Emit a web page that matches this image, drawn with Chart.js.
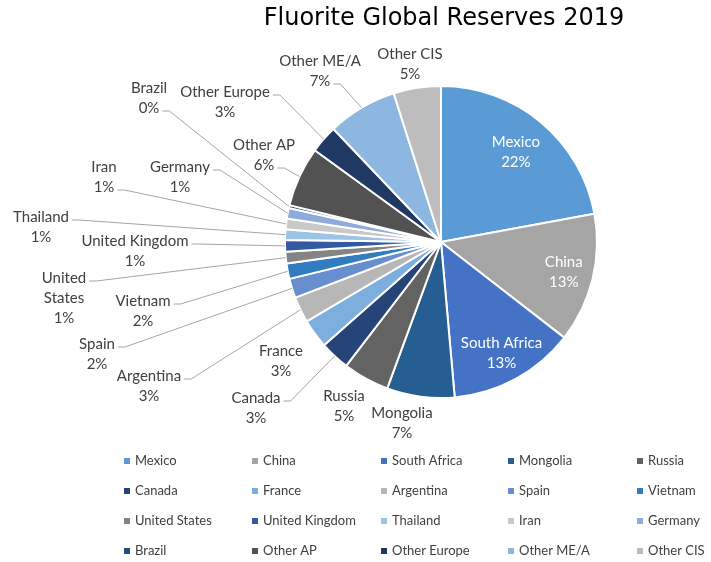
<!DOCTYPE html>
<html>
<head>
<meta charset="utf-8">
<script src="https://cdn.jsdelivr.net/npm/chart.js@4"></script>
<style>
  html, body { margin: 0; padding: 0; background: #fff; }
  #wrap { width: 711px; height: 562px; }
</style>
</head>
<body>
<div id="wrap"><canvas id="reservesChart"></canvas></div>
<script>
// Fluorite reserves by country, share of world total (%)
const countries = [
  "Mexico", "China", "South Africa", "Mongolia", "Russia",
  "Canada", "France", "Argentina", "Spain", "Vietnam",
  "United States", "United Kingdom", "Thailand", "Iran", "Germany",
  "Brazil", "Other AP", "Other Europe", "Other ME/A", "Other CIS",
];
const shares = [
  22.1, 13.4, 13.1, 7.0, 4.8,
  3.1, 3.0, 2.7, 2.0, 1.6,
  1.2, 1.2, 1.1, 1.1, 1.1,
  0.3, 6.2, 2.9, 7.2, 4.9,
];
const sliceColors = [
  "#5B9BD5", "#A5A5A5", "#4472C4", "#255E91", "#636363",
  "#264478", "#7CAFDD", "#B7B7B7", "#698ED0", "#327DC2",
  "#848484", "#335AA1", "#9DC3E6", "#C9C9C9", "#8FAADC",
  "#1F4E79", "#525252", "#203864", "#8DB6E1", "#BDBDBD",
];
const chartTitle = "Fluorite Global Reserves 2019";

// where each outside label sits; lead = which text line the leader line starts from
const labelSpots = {
  "Mongolia": { x: 402, y: 413 },
  "Russia": { x: 344, y: 396 },
  "Canada": { x: 256, y: 398, lead: 0 },
  "France": { x: 281, y: 351 },
  "Argentina": { x: 149, y: 376, lead: 0 },
  "Spain": { x: 97, y: 344, lead: 0 },
  "Vietnam": { x: 143, y: 301, lead: 0 },
  "United States": { x: 64, y: 278, lead: 0, wrap: true },
  "United Kingdom": { x: 135, y: 241, lead: 0 },
  "Thailand": { x: 41, y: 217, lead: 0 },
  "Iran": { x: 104, y: 167, lead: 1 },
  "Germany": { x: 180, y: 167, lead: 0 },
  "Brazil": { x: 149, y: 88, lead: 1 },
  "Other Europe": { x: 225, y: 92, lead: 0 },
  "Other AP": { x: 264, y: 145, lead: 1 },
  "Other ME/A": { x: 320, y: 61, lead: 1 },
  "Other CIS": { x: 410, y: 54 },
};

const pieLabels = {
  id: "pieLabels",
  afterDatasetsDraw(chart) {
    const ctx = chart.ctx;
    const arcs = chart.getDatasetMeta(0).data;
    const values = chart.data.datasets[0].data;
    const total = values.reduce((a, b) => a + b, 0);
    ctx.save();
    ctx.font = "15px Lato";
    ctx.textAlign = "center";
    ctx.textBaseline = "middle";
    arcs.forEach((arc, i) => {
      const name = chart.data.labels[i];
      const pct = Math.round((values[i] / total) * 100) + "%";
      const mid = (arc.startAngle + arc.endAngle) / 2;
      const spot = labelSpots[name];
      if (!spot) {
        // big slices get their label inside
        const r = arc.outerRadius * (i === 0 ? 0.75 : 0.81);
        const x = arc.x + Math.cos(mid) * r;
        const y = arc.y + Math.sin(mid) * r;
        ctx.fillStyle = "#fff";
        ctx.fillText(name, x, y - 10);
        ctx.fillText(pct, x, y + 10);
        return;
      }
      const lines = spot.wrap ? name.split(" ") : [name];
      lines.push(pct);
      ctx.fillStyle = "#404040";
      lines.forEach((t, k) => ctx.fillText(t, spot.x, spot.y + k * 20));
      if (spot.lead !== undefined) {
        const w = ctx.measureText(lines[spot.lead]).width;
        const sx = spot.x + w / 2 + 3;
        const sy = spot.y + spot.lead * 20 + 3;
        const ex = arc.x + Math.cos(mid) * arc.outerRadius;
        const ey = arc.y + Math.sin(mid) * arc.outerRadius;
        ctx.strokeStyle = "#A6A6A6";
        ctx.lineWidth = 1;
        ctx.beginPath();
        ctx.moveTo(sx, sy);
        ctx.lineTo(sx + 7, sy);
        ctx.lineTo(ex, ey);
        ctx.stroke();
      }
    });
    ctx.restore();
  },
};

// title and a 5-column grid legend, drawn straight on the canvas
const titleAndLegend = {
  id: "titleAndLegend",
  afterDraw(chart) {
    const ctx = chart.ctx;
    ctx.save();
    ctx.font = "24px 'DejaVu Sans'";
    ctx.fillStyle = "#000";
    ctx.textAlign = "center";
    ctx.textBaseline = "middle";
    ctx.fillText(chartTitle, 444, 19);

    const colX = [127, 255, 384, 511, 640];
    ctx.font = "13px Lato";
    ctx.textAlign = "left";
    chart.data.labels.forEach((name, i) => {
      const x = colX[i % 5];
      const y = 461 + Math.floor(i / 5) * 30;
      ctx.fillStyle = sliceColors[i];
      ctx.fillRect(x - 3, y - 3, 6, 6);
      ctx.fillStyle = "#404040";
      ctx.fillText(name, x + 8, y);
    });
    ctx.restore();
  },
};

function drawChart() {
  const ctx = document.getElementById("reservesChart").getContext("2d");
  new Chart(ctx, {
    type: "pie",
    data: {
      labels: countries,
      datasets: [
        {
          data: shares,
          backgroundColor: sliceColors,
          borderColor: "#fff",
          borderWidth: 2,
        },
      ],
    },
    options: {
      responsive: true,
      maintainAspectRatio: false,
      animation: false,
      events: [],
      layout: { padding: { top: 85, left: 284, right: 113, bottom: 163 } },
      plugins: {
        legend: { display: false },
        tooltip: { enabled: false },
        title: { display: false },
      },
    },
    plugins: [pieLabels, titleAndLegend],
  });
}

document.fonts.load("15px Lato").then(drawChart, drawChart);
</script>
</body>
</html>
